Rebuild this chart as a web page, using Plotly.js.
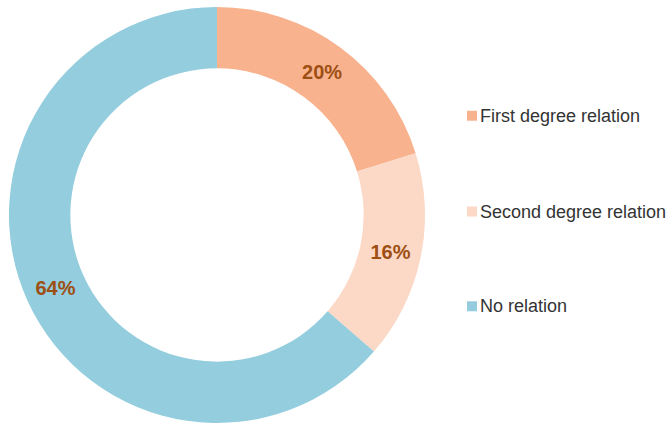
<!DOCTYPE html>
<html>
<head>
<meta charset="utf-8">
<script src="https://cdn.plot.ly/plotly-3.0.1.min.js"></script>
<style>
  html, body { margin: 0; padding: 0; background: #fff; }
  #chart { width: 667px; height: 424px; }
</style>
</head>
<body>
<div id="chart"></div>
<script>
var labels = ['First degree relation', 'Second degree relation', 'No relation'];
var shares = [20.2, 16.2, 63.6];
var colors = ['#F8B38E', '#FCD8C6', '#93CDDE'];

var donut = {
  type: 'pie',
  labels: labels,
  values: shares,
  hole: 0.705,
  sort: false,
  direction: 'clockwise',
  rotation: 0,
  marker: { colors: colors, line: { width: 0 } },
  textinfo: 'percent',
  texttemplate: '<b>%{percent:.0%}</b>',
  textposition: 'inside',
  insidetextorientation: 'horizontal',
  textfont: { family: 'Liberation Sans, Arial, sans-serif', size: 20, color: '#9E4F13' },
  hoverinfo: 'label+percent',
  showlegend: false,
  domain: { x: [8.5 / 667, 425.5 / 667], y: [0, 1] }
};

// hand-built legend so the entries can sit far apart like the original
var legendY = [0.7386, 0.5084, 0.2806];
var annotations = [];
var shapes = [];
labels.forEach(function (lab, i) {
  annotations.push({
    xref: 'paper', yref: 'paper',
    x: 478 / 667, y: legendY[i],
    xanchor: 'left', yanchor: 'middle',
    text: lab, showarrow: false,
    font: { family: 'Liberation Sans, Arial, sans-serif', size: 18, color: '#333333' }
  });
  shapes.push({
    type: 'rect', xref: 'paper', yref: 'paper',
    x0: 467 / 667, x1: 477 / 667,
    y0: legendY[i] - 5 / 417, y1: legendY[i] + 5 / 417,
    fillcolor: colors[i], line: { width: 0 }
  });
});

var layout = {
  width: 667,
  height: 424,
  margin: { l: 0, r: 0, t: 7, b: 1 },
  paper_bgcolor: '#ffffff',
  annotations: annotations,
  shapes: shapes
};

Plotly.newPlot('chart', [donut], layout, { displayModeBar: false, staticPlot: true });
</script>
</body>
</html>
